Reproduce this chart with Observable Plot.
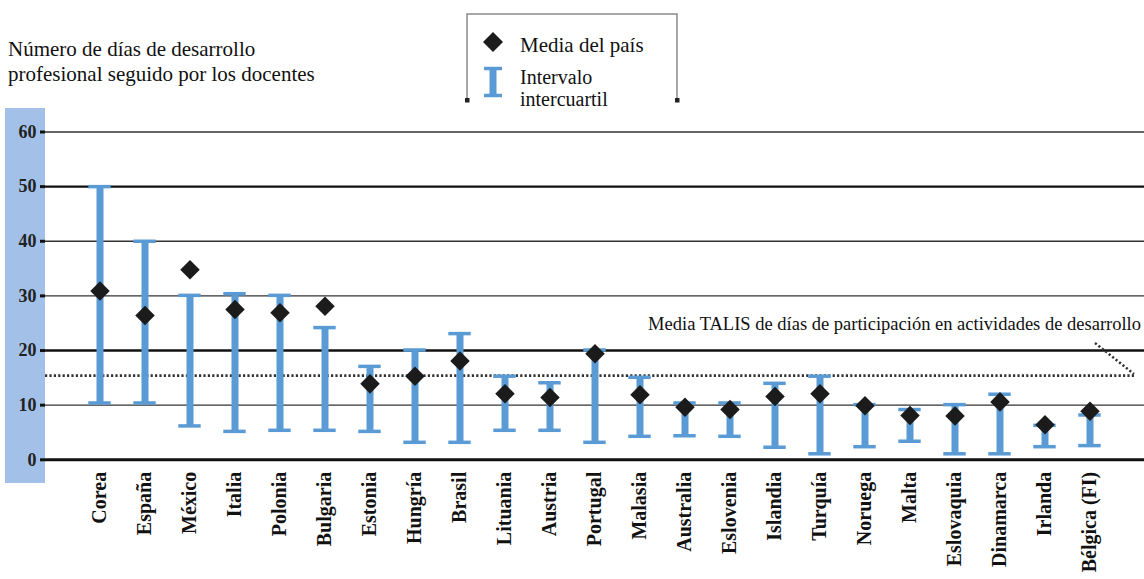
<!DOCTYPE html>
<html>
<head>
<meta charset="utf-8">
<script src="https://cdn.jsdelivr.net/npm/d3@7"></script>
<script src="https://cdn.jsdelivr.net/npm/@observablehq/plot@0.6"></script>
<style>
  html, body { margin: 0; padding: 0; background: #fff; }
  #wrap { position: relative; width: 1144px; height: 579px; overflow: hidden; font-family: "Liberation Serif", "Times New Roman", Times, "DejaVu Serif", serif; }
  #band { position: absolute; left: 5px; top: 108px; width: 40px; height: 375px; background: #a3c1e8; z-index: 0; }
  #title { position: absolute; left: 8px; top: 37px; font-size: 21px; line-height: 25px; color: #111; z-index: 2; }
  #chart { position: absolute; left: 0; top: 0; z-index: 1; }
  #chart svg { background: transparent; }
  #overlay { position: absolute; left: 0; top: 0; z-index: 3; pointer-events: none; }
</style>
</head>
<body>
<div id="wrap">
  <div id="band"></div>
  <div id="title">Número de días de desarrollo<br>profesional seguido por los docentes</div>
  <div id="chart"></div>
  <svg id="overlay" width="1144" height="579"></svg>
</div>
<script>
// ---- Data ----
const countries = ["Corea","España","México","Italia","Polonia","Bulgaria","Estonia","Hungría","Brasil","Lituania","Austria","Portugal","Malasia","Australia","Eslovenia","Islandia","Turquía","Noruega","Malta","Eslovaquia","Dinamarca","Irlanda","Bélgica (FI)"];
const countryMean = [30.9, 26.4, 34.8, 27.5, 26.9, 28.1, 13.9, 15.3, 18.1, 12.1, 11.4, 19.4, 11.9, 9.6, 9.2, 11.6, 12.1, 9.9, 8.1, 8.0, 10.6, 6.4, 8.9];
const quartile1 = [10.4, 10.4, 6.2, 5.2, 5.4, 5.4, 5.2, 3.2, 3.2, 5.4, 5.4, 3.2, 4.3, 4.4, 4.3, 2.3, 1.1, 2.4, 3.4, 1.1, 1.1, 2.4, 2.6];
const quartile3 = [50.0, 40.0, 30.1, 30.4, 30.1, 24.2, 17.1, 20.1, 23.1, 15.3, 14.1, 20.1, 15.1, 10.4, 10.4, 14.0, 15.3, 10.1, 9.2, 10.1, 12.0, 6.3, 8.2];
const talisMean = 15.4;
const yTicks = [0, 10, 20, 30, 40, 50, 60];
const legendMean = "Media del país";
const legendIQR = ["Intervalo", "intercuartil"];
const talisLabel = "Media TALIS de días de participación en actividades de desarrollo";

const data = countries.map((c, i) => ({country: c, mean: countryMean[i], q1: quartile1[i], q3: quartile3[i]}));

const blue = "#5b9bd5";
const serif = "'Liberation Serif', 'Times New Roman', Times, 'DejaVu Serif', serif";

const chart = Plot.plot({
  width: 1144,
  height: 579,
  marginLeft: 45,
  marginRight: 0,
  marginTop: 131.5,
  marginBottom: 119.7,
  style: {fontFamily: serif, background: "transparent", color: "#111"},
  x: {type: "band", domain: countries, range: [73.3, 1116.2], padding: 0, label: null},
  y: {domain: [0, 60], label: null},
  marks: [
    Plot.ruleY(yTicks, {stroke: d => (d === 0 || d === 20 || d === 50) ? "#111" : "#333", strokeWidth: d => d === 0 ? 3 : (d === 20 || d === 50) ? 2.4 : 1.4}),
    Plot.ruleY([talisMean], {stroke: "#333", strokeWidth: 2.6, strokeDasharray: "2.2,2.2", insetRight: 10}),
    Plot.ruleX(data, {x: "country", y1: "q1", y2: "q3", stroke: blue, strokeWidth: 7}),
    Plot.tickY(data, {x: "country", y: "q1", stroke: blue, strokeWidth: 3.5, insetLeft: 11.3, insetRight: 11.3}),
    Plot.tickY(data, {x: "country", y: "q3", stroke: blue, strokeWidth: 3.5, insetLeft: 11.3, insetRight: 11.3}),
    Plot.dot(data, {x: "country", y: "mean", symbol: "diamond2", r: 8.8, fill: "#1b1b1b", stroke: "none"}),
    Plot.axisY({ticks: yTicks, tickSize: 5, tickPadding: 4, strokeWidth: 3, stroke: "#111", fontSize: 18, fontWeight: "bold", fill: "#222", label: null}),
    Plot.axisX({tickRotate: -90, tickSize: 0, tickPadding: 12, fontSize: 20, fontWeight: "bold", fill: "#111", label: null})
  ]
});
document.getElementById("chart").appendChild(chart);

// ---- Overlay: legend box, TALIS label and leader ----
const ov = d3.select("#overlay");
const g = ov.append("g").style("font-family", serif).attr("fill", "#111");
// legend frame (open at bottom)
g.append("path").attr("d", "M467,100 V14 H677 V100").attr("fill", "none").attr("stroke", "#8a8a8a").attr("stroke-width", 1.5);
g.append("rect").attr("x", 465).attr("y", 98).attr("width", 4.5).attr("height", 4.5).attr("fill", "#222");
g.append("rect").attr("x", 675).attr("y", 98).attr("width", 4.5).attr("height", 4.5).attr("fill", "#222");
// diamond symbol
g.append("path").attr("d", "M493,32 L503,42 L493,52 L483,42 Z").attr("fill", "#1b1b1b");
g.append("text").attr("x", 520).attr("y", 52).attr("font-size", 21).text(legendMean);
// I-beam symbol
g.append("line").attr("x1", 493).attr("x2", 493).attr("y1", 67).attr("y2", 97).attr("stroke", blue).attr("stroke-width", 7);
g.append("line").attr("x1", 484).attr("x2", 502).attr("y1", 68.5).attr("y2", 68.5).attr("stroke", blue).attr("stroke-width", 3.5);
g.append("line").attr("x1", 484).attr("x2", 502).attr("y1", 95.5).attr("y2", 95.5).attr("stroke", blue).attr("stroke-width", 3.5);
g.append("text").attr("x", 520).attr("y", 84).attr("font-size", 20).text(legendIQR[0]);
g.append("text").attr("x", 520).attr("y", 106).attr("font-size", 20).text(legendIQR[1]);
// TALIS label
g.append("text").attr("x", 1141).attr("y", 330).attr("text-anchor", "end").attr("font-size", 18.5).text(talisLabel);
// leader
g.append("line").attr("x1", 1095).attr("y1", 343).attr("x2", 1134).attr("y2", 374).attr("stroke", "#333").attr("stroke-width", 2.5).attr("stroke-dasharray", "2.2,2.2");
</script>
</body>
</html>
